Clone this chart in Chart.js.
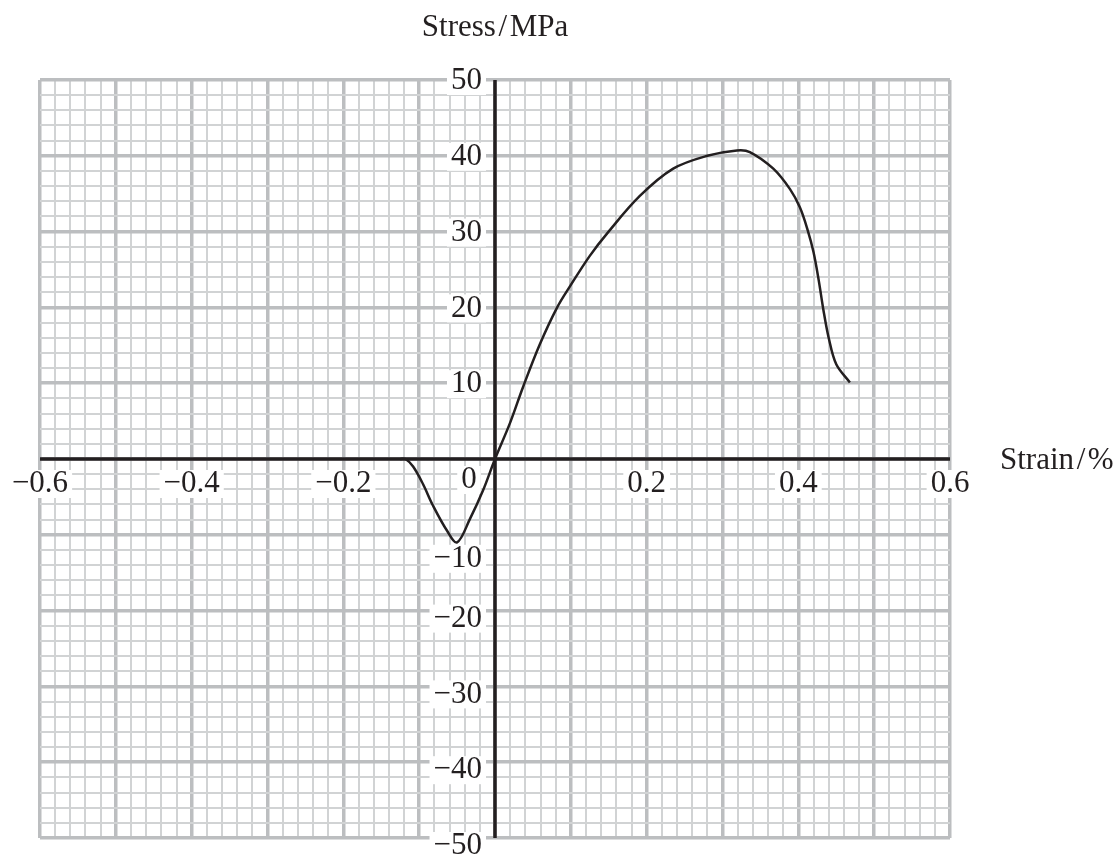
<!DOCTYPE html>
<html>
<head>
<meta charset="utf-8">
<script src="https://cdn.jsdelivr.net/npm/chart.js@4"></script>
<style>
  body { margin: 0; background: #fff; }
  #wrap { width: 1120px; height: 862px; }
</style>
</head>
<body>
<div id="wrap"><canvas id="stressChart"></canvas></div>
<script>
// curve
const strain = [-0.125, -0.118, -0.108, -0.095, -0.082, -0.063, -0.05, -0.033, -0.016, 0,
    0.02, 0.037, 0.059, 0.082, 0.099, 0.125, 0.149, 0.191, 0.235, 0.28, 0.319, 0.336,
    0.367, 0.389, 0.402, 0.412, 0.42, 0.427, 0.433, 0.44, 0.45, 0.468];
const stress = [0, 0, -1, -3.3, -6.1, -9.5, -11, -7.9, -4.2, 0,
    4.8, 9.5, 15.1, 20, 22.8, 26.8, 29.9, 34.7, 38.3, 40, 40.7, 40.5,
    38.3, 35.6, 33.2, 30.3, 27.3, 23.5, 19.7, 16, 12.5, 10.1];

const xLabels = [-0.6, -0.4, -0.2, 0.2, 0.4, 0.6];
const yLabels = [50, 40, 30, 20, 10, -10, -20, -30, -40, -50];

const ink = "#231f20";
const majorGrid = "#bcbec0";
const minorGrid = "#d1d3d4";
const font = '31px "Liberation Serif", "Times New Roman", serif';

const fmt = v => (v < 0 ? "\u2212" : "") + Math.abs(v);

// =====================================
// axes through the origin + labels
// =====================================
const axesPlugin = {
    id: "axesThroughOrigin",
    beforeDatasetsDraw(chart) {
        const { ctx, scales: { x, y } } = chart;
        const x0 = x.getPixelForValue(0);
        const y0 = y.getPixelForValue(0);
        ctx.save();

        ctx.strokeStyle = ink;
        ctx.lineWidth = 3.5;
        ctx.beginPath();
        ctx.moveTo(x.left, y0);
        ctx.lineTo(x.right, y0);
        ctx.moveTo(x0, y.top);
        ctx.lineTo(x0, y.bottom);
        ctx.stroke();

        ctx.font = font;
        ctx.textBaseline = "middle";
        ctx.textAlign = "left";
        const label = (text, px, py, align) => {
            const w = ctx.measureText(text).width;
            const left = align === "right" ? px - w : px - w / 2;
            ctx.fillStyle = "#fff";
            ctx.fillRect(left - 4, py - 14, w + 8, 28);
            ctx.fillStyle = ink;
            ctx.fillText(text, left, py);
        };

        xLabels.forEach(v => label(fmt(v), x.getPixelForValue(v), y0 + 25, "center"));
        yLabels.forEach(v => {
            // the -10 label sits lower, clear of the curve's dip
            const dy = v === -10 ? 24 : (v < 0 ? 8 : 1);
            label(fmt(v), x0 - 13, y.getPixelForValue(v) + dy, "right");
        });
        label("0", x0 - 26, y0 + 21, "center");

        ctx.fillStyle = ink;
        ctx.textAlign = "center";
        ctx.fillText("Stress\u200a/\u200aMPa", x0, 28);
        ctx.textAlign = "left";
        ctx.fillText("Strain\u200a/\u200a%", x.right + 50, y0 + 2);
        ctx.restore();
    }
};

const isMajorX = v => Math.abs(Math.round(v * 100)) % 10 === 0;
const isMajorY = v => Math.abs(Math.round(v)) % 10 === 0;

new Chart(document.getElementById("stressChart"), {
    type: "line",
    data: {
        datasets: [{
            data: strain.map((s, i) => ({ x: s, y: stress[i] })),
            borderColor: ink,
            borderWidth: 2.5,
            pointRadius: 0,
            tension: 0.35,
            fill: false
        }]
    },
    options: {
        responsive: true,
        maintainAspectRatio: false,
        animation: false,
        layout: { padding: { left: 40, right: 170, top: 80, bottom: 24 } },
        plugins: { legend: { display: false }, tooltip: { enabled: false } },
        scales: {
            x: {
                type: "linear",
                min: -0.6,
                max: 0.6,
                afterFit: s => { s.height = 0; },
                ticks: { display: false, stepSize: 0.02, autoSkip: false, maxTicksLimit: 100 },
                border: { display: false },
                grid: {
                    drawTicks: false,
                    color: c => isMajorX(c.tick.value) ? majorGrid : minorGrid,
                    lineWidth: c => isMajorX(c.tick.value) ? 3.5 : 2
                }
            },
            y: {
                type: "linear",
                min: -50,
                max: 50,
                afterFit: s => { s.width = 0; },
                ticks: { display: false, stepSize: 2, autoSkip: false, maxTicksLimit: 100 },
                border: { display: false },
                grid: {
                    drawTicks: false,
                    color: c => isMajorY(c.tick.value) ? majorGrid : minorGrid,
                    lineWidth: c => isMajorY(c.tick.value) ? 3.5 : 2
                }
            }
        }
    },
    plugins: [axesPlugin]
});
</script>
</body>
</html>
